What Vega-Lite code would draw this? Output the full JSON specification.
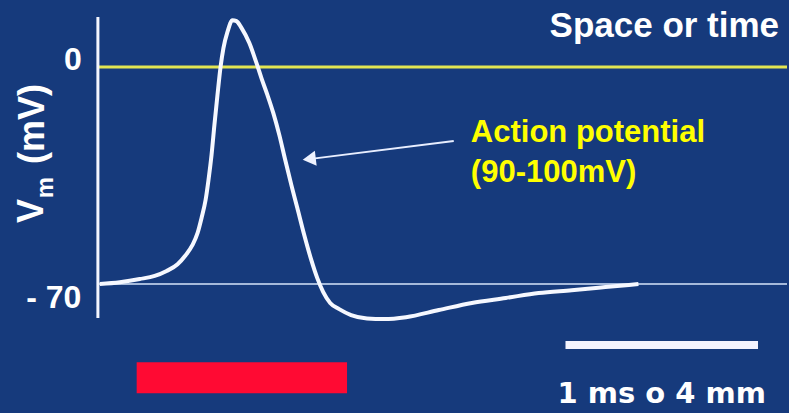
{
  "$schema": "https://vega.github.io/schema/vega-lite/v6.json",
  "width": 789,
  "height": 413,
  "autosize": {"type": "fit", "contains": "padding"},
  "padding": 0,
  "background": "#163a7c",
  "config": {"view": {"stroke": null}},
  "datasets": {
    "curve": [
      {"t":0.010,"v":-70.0},{"t":0.114,"v":-69.4},{"t":0.218,"v":-68.4},{"t":0.296,"v":-67.4},{"t":0.358,"v":-65.8},
      {"t":0.415,"v":-63.6},{"t":0.457,"v":-60.7},{"t":0.493,"v":-57.4},{"t":0.519,"v":-53.6},{"t":0.540,"v":-48.7},
      {"t":0.561,"v":-42.9},{"t":0.576,"v":-36.5},{"t":0.592,"v":-28.4},{"t":0.607,"v":-18.7},{"t":0.623,"v":-9.0},
      {"t":0.639,"v":0.0},{"t":0.654,"v":6.1},{"t":0.675,"v":11.3},{"t":0.701,"v":15.1},{"t":0.722,"v":14.8},
      {"t":0.748,"v":12.6},{"t":0.789,"v":7.7},{"t":0.826,"v":1.3},{"t":0.852,"v":-3.6},{"t":0.883,"v":-9.0},
      {"t":0.914,"v":-14.9},{"t":0.945,"v":-21.9},{"t":0.976,"v":-30.0},{"t":1.008,"v":-38.1},{"t":1.039,"v":-45.5},
      {"t":1.075,"v":-54.2},{"t":1.112,"v":-62.3},{"t":1.143,"v":-68.1},{"t":1.174,"v":-72.6},{"t":1.210,"v":-76.1},
      {"t":1.257,"v":-78.1},{"t":1.319,"v":-80.0},{"t":1.402,"v":-81.1},{"t":1.491,"v":-81.3},{"t":1.605,"v":-80.7},
      {"t":1.776,"v":-78.4},{"t":1.948,"v":-76.1},{"t":2.125,"v":-74.5},{"t":2.296,"v":-72.9},{"t":2.468,"v":-72.0},
      {"t":2.644,"v":-71.0},{"t":2.816,"v":-70.0}
    ],
    "axisline": [{"t":0,"v":16.1,"v2":-81.0}],
    "zeroline": [{"t":0,"t2":3.59,"v":0}],
    "restline": [{"t":0,"t2":3.59,"v":-70}],
    "redbar": [{"t":0.202,"t2":1.298,"v":-95.2,"v2":-105.2}],
    "scalebar": [{"t":2.436,"t2":3.439,"v":-89.7}],
    "arrowline": [{"t":1.854,"v":-23.9,"t2":1.09,"v2":-29.8}],
    "arrowhead": [{"t":1.101,"v":-29.7}],
    "ticklabels": [{"t":-0.084,"v":-1.0,"label":"0"},{"t":-0.086,"v":-77.8,"label":"- 70"}],
    "ylabelbig": [{"t":-0.287,"v":-50.3,"label":"V"},{"t":-0.281,"v":-31.3,"label":"(mV)"}],
    "ylabelsub": [{"t":-0.235,"v":-42.3,"label":"m"}],
    "title": [{"t":2.353,"v":9.66,"label":"Space or time"}],
    "annot": [{"t":1.943,"v":-24.2,"label":"Action potential"},{"t":1.943,"v":-37.1,"label":"(90-100mV)"}],
    "scaletext": [{"t":2.9375,"v":-108.4,"label":"1 ms o 4 mm"}]
  },
  "encoding": {
    "x": {"field": "t", "type": "quantitative", "scale": {"domain": [-0.51, 3.59], "nice": false, "zero": false}, "axis": null},
    "y": {"field": "v", "type": "quantitative", "scale": {"domain": [-111.6, 21.6], "nice": false, "zero": false}, "axis": null}
  },
  "layer": [
    {"data": {"name": "redbar"}, "mark": {"type": "rect", "color": "#ff0a33"},
     "encoding": {"x2": {"field": "t2"}, "y2": {"field": "v2"}}},
    {"data": {"name": "zeroline"}, "mark": {"type": "rule", "color": "#e2e552", "strokeWidth": 3},
     "encoding": {"x2": {"field": "t2"}}},
    {"data": {"name": "restline"}, "mark": {"type": "rule", "color": "#d6e4fa", "strokeWidth": 1.5},
     "encoding": {"x2": {"field": "t2"}}},
    {"data": {"name": "axisline"}, "mark": {"type": "rule", "color": "#f4f6ff", "strokeWidth": 3},
     "encoding": {"y2": {"field": "v2"}}},
    {"data": {"name": "curve"}, "mark": {"type": "line", "color": "#f6f8ff", "strokeWidth": 4, "interpolate": "monotone"},
     "encoding": {}},
    {"data": {"name": "scalebar"}, "mark": {"type": "rule", "color": "#f4f4ff", "strokeWidth": 8},
     "encoding": {"x2": {"field": "t2"}}},
    {"data": {"name": "arrowline"}, "mark": {"type": "rule", "color": "#e8eeff", "strokeWidth": 2},
     "encoding": {"x2": {"field": "t2"}, "y2": {"field": "v2"}}},
    {"data": {"name": "arrowhead"}, "mark": {"type": "point", "shape": "triangle-left", "filled": true, "color": "#eef2ff", "size": 230, "angle": -7, "opacity": 1},
     "encoding": {}},
    {"data": {"name": "ticklabels"}, "mark": {"type": "text", "align": "right", "baseline": "alphabetic", "font": "Liberation Sans", "fontWeight": "bold", "fontSize": 32, "color": "#ffffff"},
     "encoding": {"text": {"field": "label"}}},
    {"data": {"name": "ylabelbig"}, "mark": {"type": "text", "align": "left", "baseline": "alphabetic", "angle": 270, "font": "Liberation Sans", "fontWeight": "bold", "fontSize": 36, "color": "#ffffff"},
     "encoding": {"text": {"field": "label"}}},
    {"data": {"name": "ylabelsub"}, "mark": {"type": "text", "align": "left", "baseline": "alphabetic", "angle": 270, "font": "Liberation Sans", "fontWeight": "bold", "fontSize": 24, "color": "#ffffff"},
     "encoding": {"text": {"field": "label"}}},
    {"data": {"name": "title"}, "mark": {"type": "text", "align": "left", "baseline": "alphabetic", "font": "Liberation Sans", "fontWeight": "bold", "fontSize": 35, "color": "#ffffff"},
     "encoding": {"text": {"field": "label"}}},
    {"data": {"name": "annot"}, "mark": {"type": "text", "align": "left", "baseline": "alphabetic", "font": "Liberation Sans", "fontWeight": "bold", "fontSize": 31, "color": "#ffff00"},
     "encoding": {"text": {"field": "label"}}},
    {"data": {"name": "scaletext"}, "mark": {"type": "text", "align": "center", "baseline": "alphabetic", "font": "DejaVu Sans", "fontWeight": "bold", "fontSize": 29, "color": "#ffffff"},
     "encoding": {"text": {"field": "label"}}}
  ]
}
